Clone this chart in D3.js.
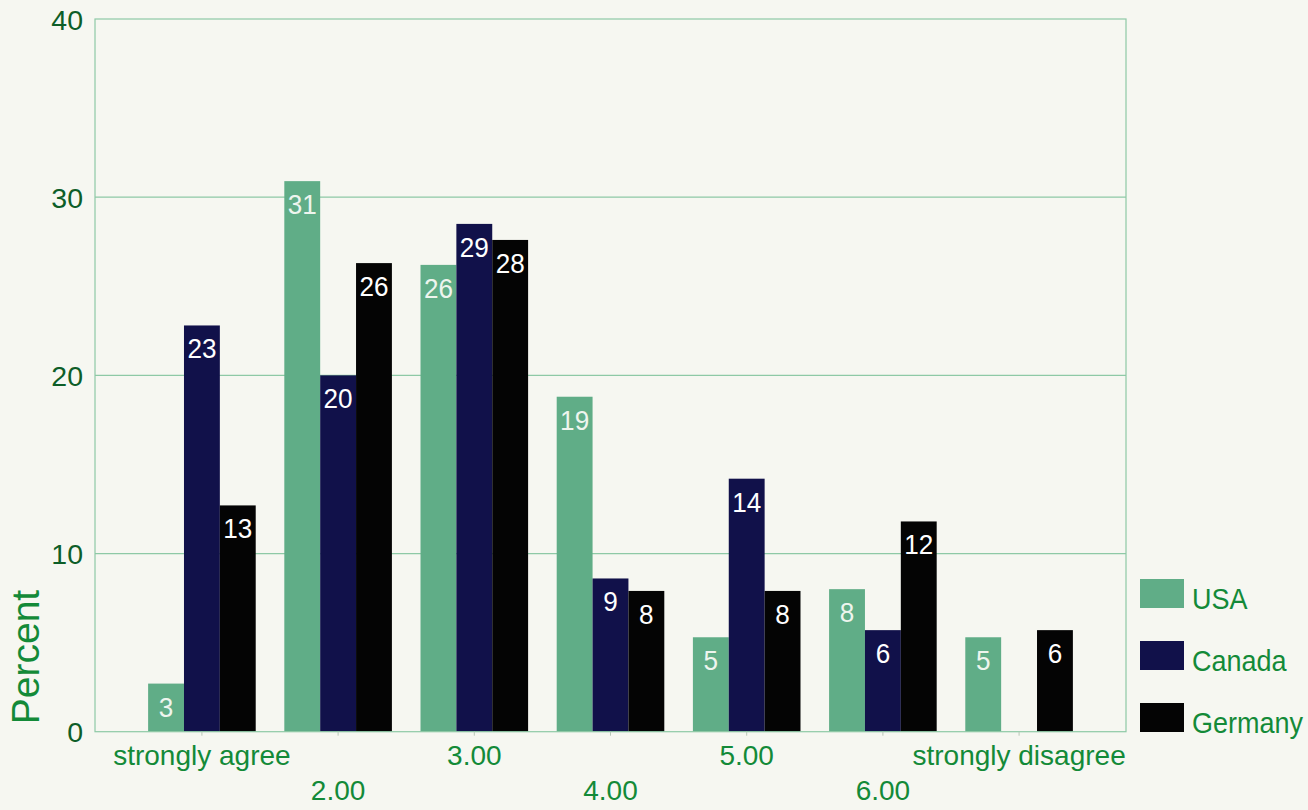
<!DOCTYPE html>
<html>
<head>
<meta charset="utf-8">
<script src="https://cdn.jsdelivr.net/npm/d3@7"></script>
<style>
  html, body { margin: 0; padding: 0; background: #f6f7f1; }
  svg { display: block; }
</style>
</head>
<body>
<svg id="chart" width="1308" height="810"></svg>
<script>
const categories = ["strongly agree", "2.00", "3.00", "4.00", "5.00", "6.00", "strongly disagree"];
const seriesNames = ["USA", "Canada", "Germany"];
const usaValues = [2.7, 30.9, 26.2, 18.8, 5.3, 8.0, 5.3];
const canadaValues = [22.8, 20.0, 28.5, 8.6, 14.2, 5.7, null];
const germanyValues = [12.7, 26.3, 27.6, 7.9, 7.9, 11.8, 5.7];
const yTicks = [0, 10, 20, 30, 40];

const seriesValues = { USA: usaValues, Canada: canadaValues, Germany: germanyValues };
const colors = { USA: "#60ad87", Canada: "#11114a", Germany: "#040404" };
const labelColors = { USA: "#eef5ee", Canada: "#ffffff", Germany: "#ffffff" };

const svg = d3.select("#chart");
const plotLeft = 95, plotRight = 1126, plotTop = 19, plotBottom = 731.7;
const font = "'Liberation Sans', Arial, sans-serif";
const gridColor = "#8ec9a6";
const textGreen = "#138a38";
const tickGreen = "#0d5e28";

const x = d3.scaleBand().domain(categories).range([plotLeft, plotRight]).paddingInner(0.21).paddingOuter(0.39);
const xs = d3.scaleBand().domain(seriesNames).range([0, x.bandwidth()]).padding(0);
const y = d3.scaleLinear().domain([0, 40]).range([plotBottom, plotTop]);

// gridlines
svg.append("g").selectAll("line").data(yTicks.filter(d => d > 0 && d < 40)).join("line")
  .attr("x1", plotLeft).attr("x2", plotRight)
  .attr("y1", d => y(d)).attr("y2", d => y(d))
  .attr("stroke", gridColor).attr("stroke-width", 1.2);

// bars
const rows = [];
categories.forEach((c, i) => {
  seriesNames.forEach(s => {
    const v = seriesValues[s][i];
    if (v !== null && v !== undefined) rows.push({ c, s, v });
  });
});

svg.append("g").selectAll("rect").data(rows).join("rect")
  .attr("x", d => x(d.c) + xs(d.s))
  .attr("width", xs.bandwidth())
  .attr("y", d => y(d.v))
  .attr("height", d => y(0) - y(d.v))
  .attr("fill", d => colors[d.s]);

// bar labels
svg.append("g").selectAll("text").data(rows).join("text")
  .attr("transform", d => `translate(${x(d.c) + xs(d.s) + xs.bandwidth() / 2},${y(d.v) + 33}) scale(0.95,1)`)
  .attr("text-anchor", "middle")
  .attr("font-family", font)
  .attr("font-size", 27.5)
  .attr("fill", d => labelColors[d.s])
  .text(d => Math.round(d.v));

// frame
svg.append("rect")
  .attr("x", plotLeft).attr("y", plotTop)
  .attr("width", plotRight - plotLeft).attr("height", plotBottom - plotTop)
  .attr("fill", "none").attr("stroke", gridColor).attr("stroke-width", 1.2);

// y axis
const yAxis = d3.axisLeft(y).tickValues(yTicks).tickSize(0).tickPadding(12);
const gy = svg.append("g").attr("transform", `translate(${plotLeft},0)`).call(yAxis);
gy.select(".domain").remove();
gy.selectAll("text")
  .attr("font-family", font).attr("font-size", 28.5)
  .attr("fill", tickGreen).attr("dy", "0.36em");

// x axis
const xAxis = d3.axisBottom(x).tickSize(4).tickPadding(0);
const gx = svg.append("g").attr("transform", `translate(0,${plotBottom})`).call(xAxis);
gx.select(".domain").remove();
gx.selectAll(".tick line").attr("stroke", "#b8c8b8").attr("stroke-width", 1);
gx.selectAll("text")
  .attr("font-family", font).attr("font-size", 28)
  .attr("fill", textGreen)
  .attr("dy", null)
  .attr("y", (d, i) => (i % 2 === 0 ? 33 : 68));

// y title
svg.append("text")
  .attr("transform", `translate(39,657) rotate(-90)`)
  .attr("text-anchor", "middle")
  .attr("font-family", font).attr("font-size", 39)
  .attr("fill", textGreen)
  .text("Percent");

// legend
const legend = svg.append("g").selectAll("g").data(seriesNames).join("g")
  .attr("transform", (d, i) => `translate(1140,${579 + i * 62})`);
legend.append("rect").attr("width", 44).attr("height", 29).attr("fill", d => colors[d]);
legend.append("text")
  .attr("transform", "translate(52,30) scale(0.9,1)")
  .attr("font-family", font).attr("font-size", 30)
  .attr("fill", textGreen)
  .text(d => d);
</script>
</body>
</html>
